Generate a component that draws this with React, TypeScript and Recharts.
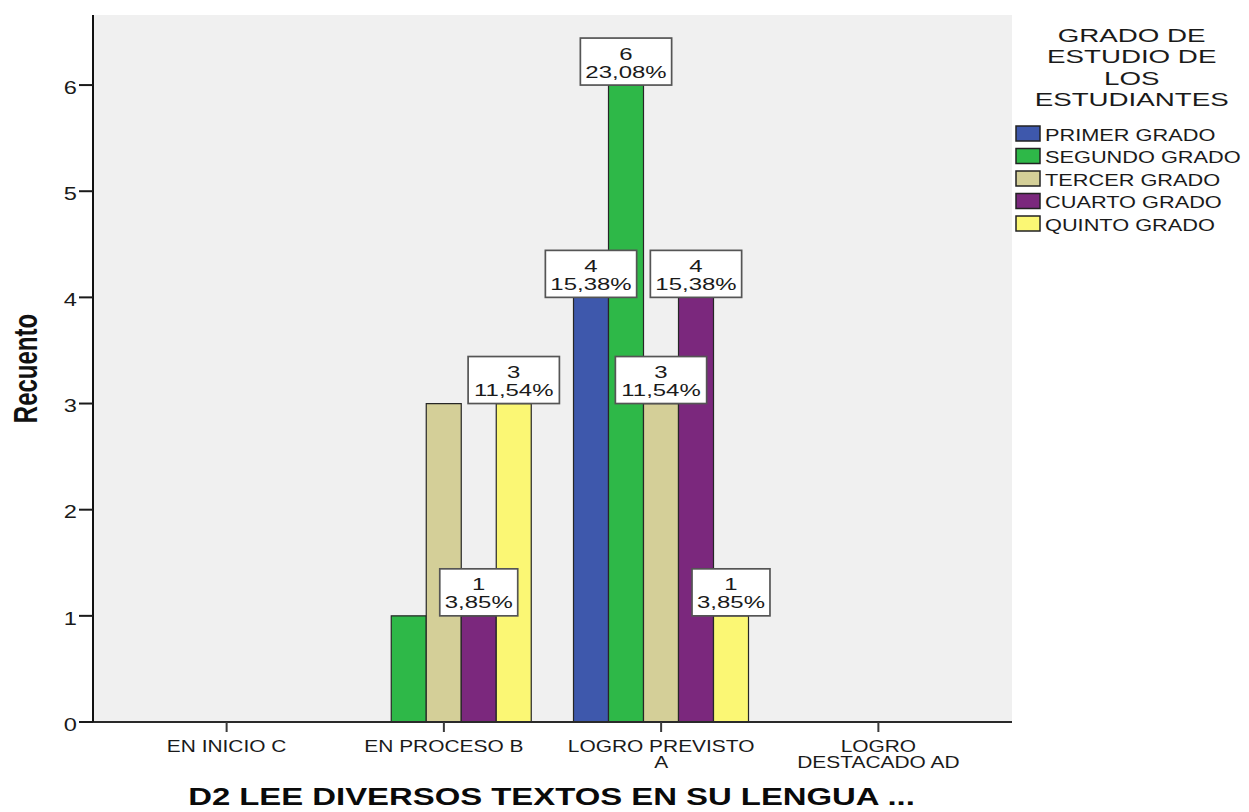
import React from 'react';
import { BarChart, Bar, XAxis, YAxis, CartesianGrid, Legend, LabelList } from 'recharts';

// ---------- data ----------
const categories = ['EN INICIO C', 'EN PROCESO B', 'LOGRO PREVISTO A', 'LOGRO DESTACADO AD'];
const categoryLines = [['EN INICIO C'], ['EN PROCESO B'], ['LOGRO PREVISTO', 'A'], ['LOGRO', 'DESTACADO AD']];
const seriesNames = ['PRIMER GRADO', 'SEGUNDO GRADO', 'TERCER GRADO', 'CUARTO GRADO', 'QUINTO GRADO'];
const seriesKeys = ['primer', 'segundo', 'tercer', 'cuarto', 'quinto'];
const seriesColors = ['#3E58AC', '#2EB848', '#D4CF98', '#7B287D', '#FBF774'];
const primerGrado = [0, 0, 4, 0];
const segundoGrado = [0, 1, 6, 0];
const tercerGrado = [0, 3, 3, 0];
const cuartoGrado = [0, 1, 4, 0];
const quintoGrado = [0, 3, 1, 0];
// category indices whose bars carry a count/percent box, per series
const labelledPrimer = [2];
const labelledSegundo = [2];
const labelledTercer = [2];
const labelledCuarto = [1, 2];
const labelledQuinto = [1, 2];
const yTicks = [0, 1, 2, 3, 4, 5, 6];
const yMax = 6.66;
const legendTitle = ['GRADO DE', 'ESTUDIO DE', 'LOS', 'ESTUDIANTES'];
const xTitle = 'D2 LEE DIVERSOS TEXTOS EN SU LENGUA ...';
const yTitle = 'Recuento';

const seriesValues = [primerGrado, segundoGrado, tercerGrado, cuartoGrado, quintoGrado];
const seriesLabelled = [labelledPrimer, labelledSegundo, labelledTercer, labelledCuarto, labelledQuinto];
const total = seriesValues.reduce((a, s) => a + s.reduce((b, v) => b + v, 0), 0);

const data = categories.map((name, i) => {
  const row: any = { name };
  seriesKeys.forEach((k, s) => {
    row[k] = seriesValues[s][i];
    row[k + 'Lbl'] = seriesLabelled[s].includes(i) ? seriesValues[s][i] : null;
  });
  return row;
});

// ---------- layout / style ----------
const W = 1233;
const H = 804;
const MARGIN = { top: 7, right: 229, bottom: 0, left: 0 };
const Y_W = 85;
const X_H = 90;
const X_PAD = { left: 25, right: 25 };
const FONT = '"Liberation Sans", Arial, Helvetica, sans-serif';
const TXT = '#1a1a1a';

const charW = (c: string) => {
  if (c === ',' || c === '.') return 0.278;
  if (c === '%') return 0.889;
  return 0.556;
};
const strW = (s: string) => s.split('').reduce((a, c) => a + charW(c), 0);

const LBL_FS = 17;
const LBL_SX = 1.41;

const BoxLabel = (props: any) => {
  const raw = props.value;
  const v = Array.isArray(raw) ? raw[1] : raw;
  if (v === null || v === undefined || v === '' || Number(v) === 0) return null;
  const vb = props.viewBox ?? props;
  const x = Number(vb.x);
  const y = Number(vb.y);
  const width = Number(vb.width);
  const num = Number(v);
  const pct = (num / total * 100).toFixed(2).replace('.', ',') + '%';
  const tw = Math.max(strW(pct), strW(String(num))) * LBL_FS * LBL_SX;
  const bw = tw + 10;
  const bh = 47;
  const cx = x + width / 2;
  const top = y - bh;
  return (
    <g>
      <rect x={cx - bw / 2} y={top} width={bw} height={bh} fill="#ffffff" stroke="#555" strokeWidth={1.7} />
      <text transform={`translate(${cx}, ${top + 21.5}) scale(${LBL_SX},1)`} textAnchor="middle" fontSize={LBL_FS} fontFamily={FONT} fill={TXT}>
        {num}
      </text>
      <text transform={`translate(${cx}, ${top + 39.5}) scale(${LBL_SX},1)`} textAnchor="middle" fontSize={LBL_FS} fontFamily={FONT} fill={TXT}>
        {pct}
      </text>
    </g>
  );
};

const XTick = (props: any) => {
  const { x, y, payload } = props;
  const idx = categories.indexOf(payload?.value);
  const lines = idx >= 0 ? categoryLines[idx] : [String(payload?.value)];
  return (
    <g>
      {lines.map((l, i) => (
        <text key={i} transform={`translate(${x}, ${y + 17.6 + i * 16.7}) scale(1.23,1)`} textAnchor="middle" fontSize={17} fontFamily={FONT} fill={TXT}>
          {l}
        </text>
      ))}
    </g>
  );
};

const YTick = (props: any) => {
  const { x, y, payload } = props;
  return (
    <text transform={`translate(${x}, ${y + 8.8}) scale(1.35,1)`} textAnchor="end" fontSize={17.5} fontFamily={FONT} fill={TXT}>
      {payload?.value}
    </text>
  );
};

const YTitle = (props: any) => {
  const vb = props.viewBox ?? { x: 0, y: MARGIN.top, width: Y_W, height: H - MARGIN.top - X_H };
  const x = (vb.x ?? 0) + 29.3;
  const y = (vb.y ?? 0) + (vb.height ?? 0) / 2;
  return (
    <text transform={`translate(${x}, ${y}) rotate(-90) scale(1,1.4)`} textAnchor="middle" fontSize={24} fontWeight="bold" fontFamily={FONT} fill="#111">
      {yTitle}
    </text>
  );
};

const XTitle = (props: any) => {
  const vb = props.viewBox ?? { x: Y_W, y: H - X_H, width: W - Y_W - MARGIN.right, height: X_H };
  const x = (vb.x ?? 0) + (vb.width ?? 0) / 2 - 1;
  const y = (vb.y ?? 0) + 83;
  return (
    <text transform={`translate(${x}, ${y}) scale(1.37,1)`} textAnchor="middle" fontSize={24} fontWeight="bold" fontFamily={FONT} fill="#0a0a0a">
      {xTitle}
    </text>
  );
};

const LegendBox = () => (
  <svg width={233} height={240} style={{ overflow: 'visible', display: 'block' }}>
    {legendTitle.map((t, i) => (
      <text key={t} transform={`translate(123.7, ${34 + i * 21.3}) scale(1.54,1)`} textAnchor="middle" fontSize={18} fontFamily={FONT} fill={TXT}>
        {t}
      </text>
    ))}
    {seriesNames.map((n, i) => (
      <g key={n}>
        <rect x={8} y={118 + i * 22.5} width={24} height={15} fill={seriesColors[i]} stroke="#222" strokeWidth={1.5} />
        <text transform={`translate(37, ${132.5 + i * 22.5}) scale(1.36,1)`} fontSize={16} fontFamily={FONT} fill={TXT}>
          {n}
        </text>
      </g>
    ))}
  </svg>
);

export default function App() {
  return (
    <div style={{ position: 'relative', width: W, height: H, fontFamily: FONT }}>
      <BarChart width={W} height={H} data={data} margin={MARGIN} barCategoryGap={21} barGap={0}>
        <CartesianGrid horizontal={false} vertical={false} fill="#F0F0F0" />
        <XAxis
          xAxisId="top"
          orientation="top"
          dataKey="name"
          height={0}
          tick={false}
          tickLine={false}
          padding={X_PAD}
          axisLine={{ stroke: '#7a7a7a', strokeWidth: 2.5 }}
        />
        <YAxis
          yAxisId="right"
          orientation="right"
          width={0}
          tick={false}
          tickLine={false}
          domain={[0, yMax]}
          axisLine={{ stroke: '#7a7a7a', strokeWidth: 2.5 }}
        />
        <XAxis
          dataKey="name"
          height={X_H}
          interval={0}
          padding={X_PAD}
          tickSize={10}
          tick={(p: any) => <XTick {...p} />}
          tickLine={{ stroke: '#3a3a3a', strokeWidth: 2 }}
          axisLine={{ stroke: '#2a2a2a', strokeWidth: 2 }}
          label={(p: any) => <XTitle {...p} />}
        />
        <YAxis
          width={Y_W}
          domain={[0, yMax]}
          ticks={yTicks}
          interval={0}
          allowDataOverflow
          tickSize={14}
          tick={(p: any) => <YTick {...p} />}
          tickLine={{ stroke: '#1a1a1a', strokeWidth: 2 }}
          axisLine={{ stroke: '#111', strokeWidth: 2 }}
          label={(p: any) => <YTitle {...p} />}
        />
        <Legend
          layout="vertical"
          align="center"
          verticalAlign="middle"
          wrapperStyle={{ left: 1000, top: 0, width: 233, height: 240 }}
          content={() => <LegendBox />}
        />
        {seriesKeys.map((k, s) => (
          <Bar
            key={k}
            dataKey={k}
            name={seriesNames[s]}
            fill={seriesColors[s]}
            stroke="#262626"
            strokeWidth={1.2}
            isAnimationActive={false}
          />
        ))}
      </BarChart>
      <div style={{ position: 'absolute', left: 0, top: 0 }}>
        <BarChart width={W} height={H} data={data} margin={MARGIN} barCategoryGap={21} barGap={0}>
          <XAxis dataKey="name" height={X_H} interval={0} padding={X_PAD} tick={false} tickLine={false} axisLine={false} />
          <YAxis width={Y_W} domain={[0, yMax]} ticks={yTicks} allowDataOverflow tick={false} tickLine={false} axisLine={false} />
          {seriesKeys.map((k) => (
            <Bar key={k} dataKey={k} fill="none" stroke="none" isAnimationActive={false}>
              <LabelList dataKey={k + 'Lbl'} content={(p: any) => <BoxLabel {...p} />} />
            </Bar>
          ))}
        </BarChart>
      </div>
    </div>
  );
}
